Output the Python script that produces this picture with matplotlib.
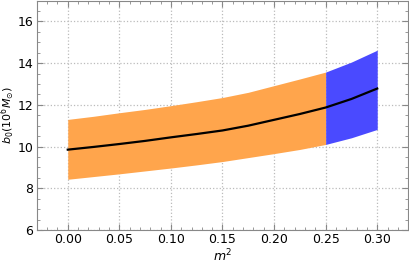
import matplotlib
matplotlib.use("Agg")
import matplotlib.pyplot as plt
from matplotlib.ticker import MultipleLocator
import numpy as np

# values
m2 = [0.0, 0.025, 0.05, 0.075, 0.10, 0.125, 0.15, 0.175, 0.20, 0.225, 0.25, 0.275, 0.30]
b0_mid = [9.85, 9.98, 10.12, 10.27, 10.44, 10.60, 10.77, 11.00, 11.28, 11.56, 11.87, 12.28, 12.78]
b0_up = [11.30, 11.45, 11.62, 11.78, 11.96, 12.15, 12.35, 12.60, 12.92, 13.24, 13.57, 14.05, 14.62]
b0_lo = [8.43, 8.56, 8.69, 8.83, 8.97, 9.12, 9.28, 9.47, 9.66, 9.86, 10.10, 10.42, 10.82]
m2_split = 0.25

x = np.array(m2)
mid = np.array(b0_mid)
up = np.array(b0_up)
lo = np.array(b0_lo)

fig = plt.figure(figsize=(4.09, 2.68), dpi=100)
ax = fig.add_axes([0.09, 0.142, 0.908, 0.856])

left = x <= m2_split
right = x >= m2_split
ax.fill_between(x[left], lo[left], up[left], color='#ffa54c', lw=0)
ax.fill_between(x[right], lo[right], up[right], color='#4a4aff', lw=0)
ax.plot(x, mid, color='black', lw=1.6)

ax.set_xlim(-0.03, 0.33)
ax.set_ylim(6, 17)
ax.xaxis.set_major_locator(MultipleLocator(0.05))
ax.xaxis.set_minor_locator(MultipleLocator(0.01))
ax.yaxis.set_major_locator(MultipleLocator(2))
ax.yaxis.set_minor_locator(MultipleLocator(0.5))
ax.xaxis.set_major_formatter(plt.FuncFormatter(lambda v, p: f'{v:.2f}'))

ax.tick_params(which='both', direction='in', top=True, right=True,
               colors='#888888', labelcolor='black', labelsize=9, pad=2.5)
ax.tick_params(which='major', length=4)
ax.tick_params(which='minor', length=2)
for s in ax.spines.values():
    s.set_color('#888888')

ax.grid(True, which='major', linestyle=':', color='#bbbbbb', lw=0.9)
ax.set_axisbelow(True)

ax.set_xlabel(r'$m^2$', fontsize=9, labelpad=1)
ax.set_ylabel(r'$b_0(10^6 M_{\odot})$', fontsize=8, labelpad=0)

fig.savefig('out.png', dpi=100)
